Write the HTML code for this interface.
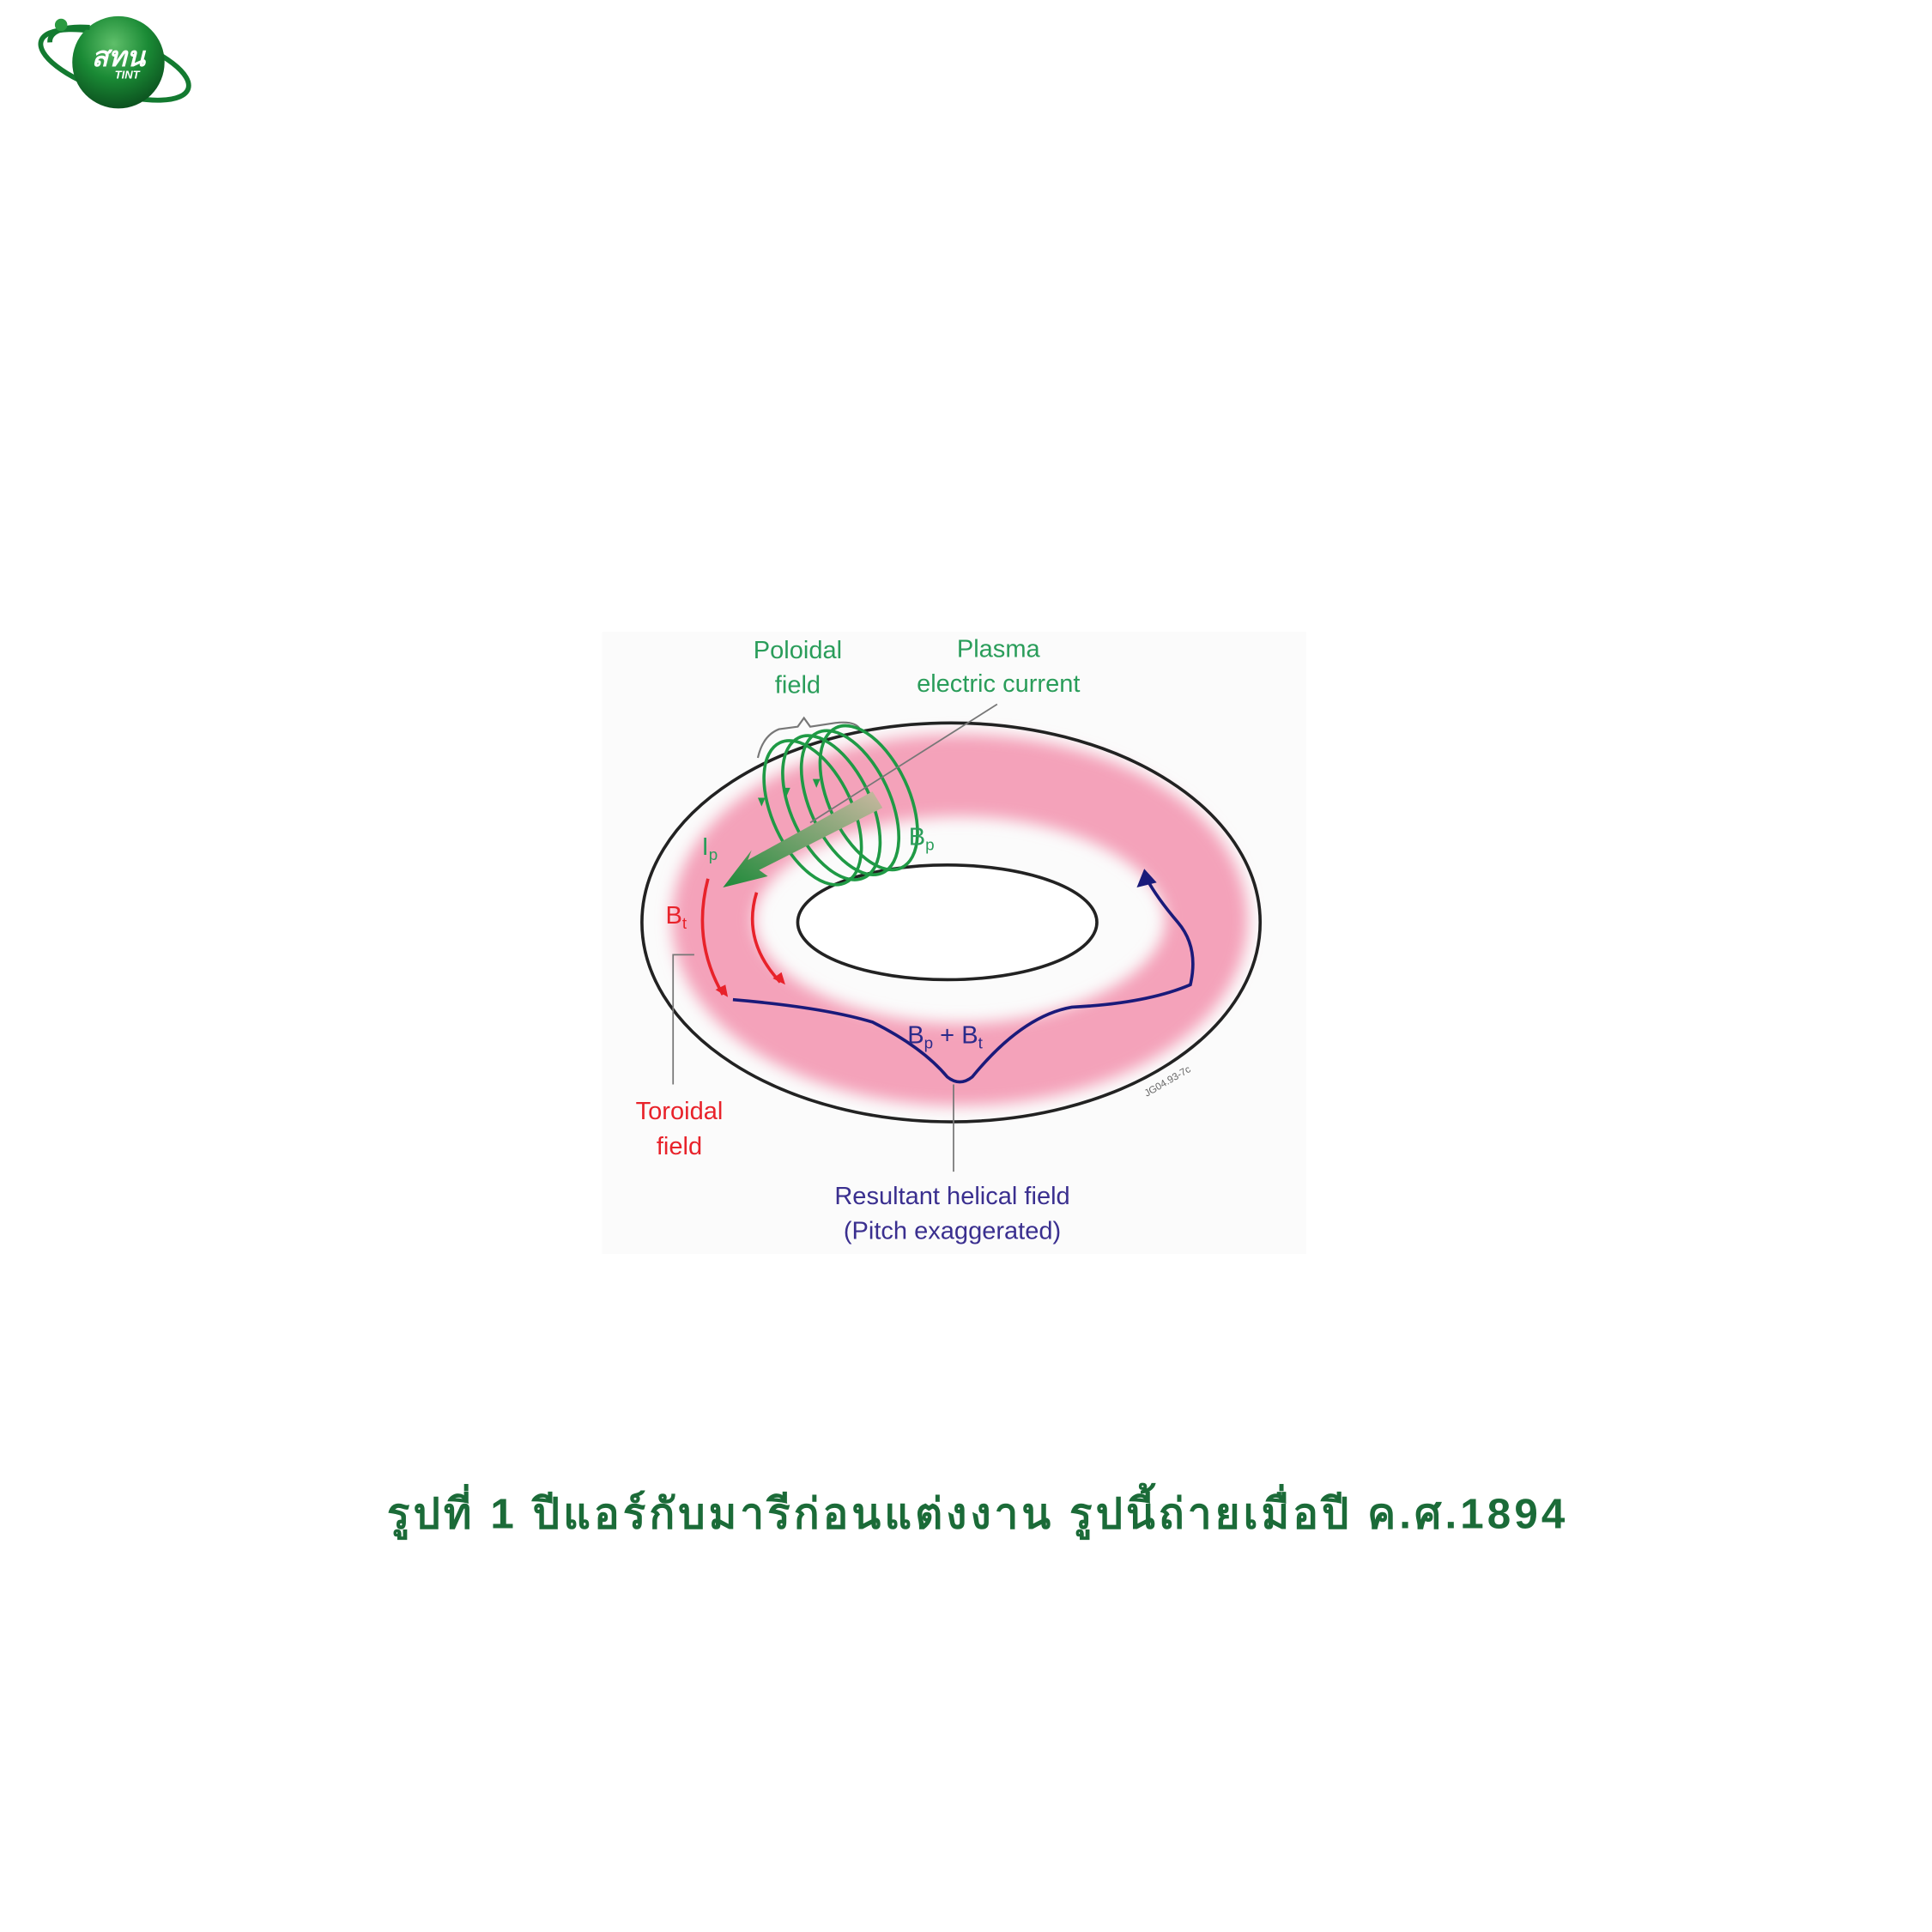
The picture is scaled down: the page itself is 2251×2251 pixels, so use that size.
<!DOCTYPE html>
<html><head><meta charset="utf-8"><style>html,body{margin:0;padding:0;background:#fff}svg{display:block}</style></head>
<body>
<svg width="2251" height="2251" viewBox="0 0 1550 1550" xmlns="http://www.w3.org/2000/svg">
<defs>
<radialGradient id="sph" cx="0.45" cy="0.3" r="0.75"><stop offset="0" stop-color="#5fbf6a"/><stop offset="0.5" stop-color="#1a8a35"/><stop offset="1" stop-color="#0a4a1c"/></radialGradient>
<filter id="bl" x="-30%" y="-40%" width="160%" height="180%"><feGaussianBlur stdDeviation="6"/></filter>
<linearGradient id="ga" x1="1" y1="0" x2="0" y2="1"><stop offset="0" stop-color="#c9b8a0"/><stop offset="1" stop-color="#1f8a3a"/></linearGradient>
</defs>
<rect width="1550" height="1550" fill="#fff"/>
<!-- logo -->
<ellipse cx="92" cy="52" rx="62" ry="22" transform="rotate(18 92 52)" fill="none" stroke="#137a30" stroke-width="4"/>
<circle cx="95" cy="50" r="37" fill="url(#sph)"/>
<path d="M40 34 A62 22 18 0 1 72 22" fill="none" stroke="#137a30" stroke-width="4"/>
<circle cx="49" cy="20" r="5" fill="#2a9a40"/>
<text x="95" y="53" font-family="Liberation Sans, sans-serif" font-weight="bold" font-style="italic" font-size="22" fill="#fff" text-anchor="middle">สทน</text>
<text x="102" y="63" font-family="Liberation Sans, sans-serif" font-weight="bold" font-style="italic" font-size="9" fill="#fff" text-anchor="middle">TINT</text>
<!-- panel -->
<rect x="483" y="507" width="565" height="499" fill="#fbfbfb"/>
<ellipse cx="770" cy="738" rx="198" ry="116" fill="none" stroke="#f4a2ba" stroke-width="66" filter="url(#bl)"/>
<ellipse cx="763" cy="740" rx="248" ry="160" fill="none" stroke="#222" stroke-width="2.5"/>
<ellipse cx="760" cy="740" rx="120" ry="46" fill="#fff" stroke="#222" stroke-width="2.5"/>
<!-- brace -->
<path d="M608 608 Q612 590 625 585 L640 583 L645 576 L650 583 L670 580 Q686 578 690 585" fill="none" stroke="#777" stroke-width="1.5"/>
<!-- coils -->
<g fill="none" stroke="#1f9a45" stroke-width="2.5">
<ellipse cx="652" cy="652" rx="32" ry="62" transform="rotate(-25 652 652)"/>
<ellipse cx="667" cy="648" rx="32" ry="62" transform="rotate(-25 667 648)"/>
<ellipse cx="682" cy="644" rx="32" ry="62" transform="rotate(-25 682 644)"/>
<ellipse cx="697" cy="640" rx="32" ry="62" transform="rotate(-25 697 640)"/>
</g>
<g fill="#1f9a45"><path d="M608 640 l6 0 l-3 7z"/><path d="M628 632 l6 0 l-3 7z"/><path d="M652 625 l6 0 l-3 7z"/></g>
<line x1="650" y1="660" x2="800" y2="565" stroke="#777" stroke-width="1.2"/>
<path d="M700 635 L600 690 L603 682 L580 712 L616 703 L609 698 L708 648 Z" fill="url(#ga)"/>
<!-- red -->
<path d="M568 705 Q555 755 580 798" fill="none" stroke="#e8222a" stroke-width="2.5"/>
<path d="M574 794 l10 6 l-2 -10z" fill="#e8222a"/>
<path d="M607 716 Q595 755 626 788" fill="none" stroke="#e8222a" stroke-width="2.5"/>
<path d="M620 785 l10 5 l-3 -10z" fill="#e8222a"/>
<!-- blue helix -->
<path d="M588 802 Q660 808 700 820 Q740 840 760 864 Q770 872 780 864 Q820 815 860 808 Q920 805 955 790 Q962 760 945 740 Q928 720 920 705" fill="none" stroke="#1a1a7a" stroke-width="2.5"/>
<path d="M912 712 L918 697 L928 708 Z" fill="#1a1a7a"/>
<!-- leader lines -->
<polyline points="557,766 540,766 540,870" fill="none" stroke="#777" stroke-width="1.2"/>
<line x1="765" y1="870" x2="765" y2="940" stroke="#777" stroke-width="1.2"/>
<g font-family="Liberation Sans, sans-serif" font-size="20">
<text x="640" y="528" fill="#2a9d5a" text-anchor="middle">Poloidal</text>
<text x="640" y="556" fill="#2a9d5a" text-anchor="middle">field</text>
<text x="801" y="527" fill="#2a9d5a" text-anchor="middle">Plasma</text>
<text x="801" y="555" fill="#2a9d5a" text-anchor="middle">electric current</text>
<text x="729" y="678" fill="#2a9d5a">B<tspan font-size="13" dy="4">p</tspan></text>
<text x="563" y="686" fill="#2a9d5a">I<tspan font-size="13" dy="4">p</tspan></text>
<text x="534" y="741" fill="#e8222a">B<tspan font-size="13" dy="4">t</tspan></text>
<text x="728" y="837" fill="#2a2a8a">B<tspan font-size="13" dy="4">p</tspan><tspan dy="-4"> + B</tspan><tspan font-size="13" dy="4">t</tspan></text>
<text x="545" y="898" fill="#e8222a" text-anchor="middle">Toroidal</text>
<text x="545" y="926" fill="#e8222a" text-anchor="middle">field</text>
<text x="764" y="966" fill="#3a2f8f" text-anchor="middle">Resultant helical field</text>
<text x="764" y="994" fill="#3a2f8f" text-anchor="middle">(Pitch exaggerated)</text>
</g>
<text x="920" y="880" font-family="Liberation Sans, sans-serif" font-size="8" fill="#666" transform="rotate(-30 920 880)">JG04.93-7c</text>
<text x="783" y="1226" font-family="Liberation Sans, 'Noto Sans CJK SC', sans-serif" font-weight="bold" font-size="34" fill="#1b6b38" text-anchor="middle" textLength="945">รูปที่ 1 ปีแอร์กับมารีก่อนแต่งงาน รูปนี้ถ่ายเมื่อปี ค.ศ.1894</text>
</svg>
</body></html>
